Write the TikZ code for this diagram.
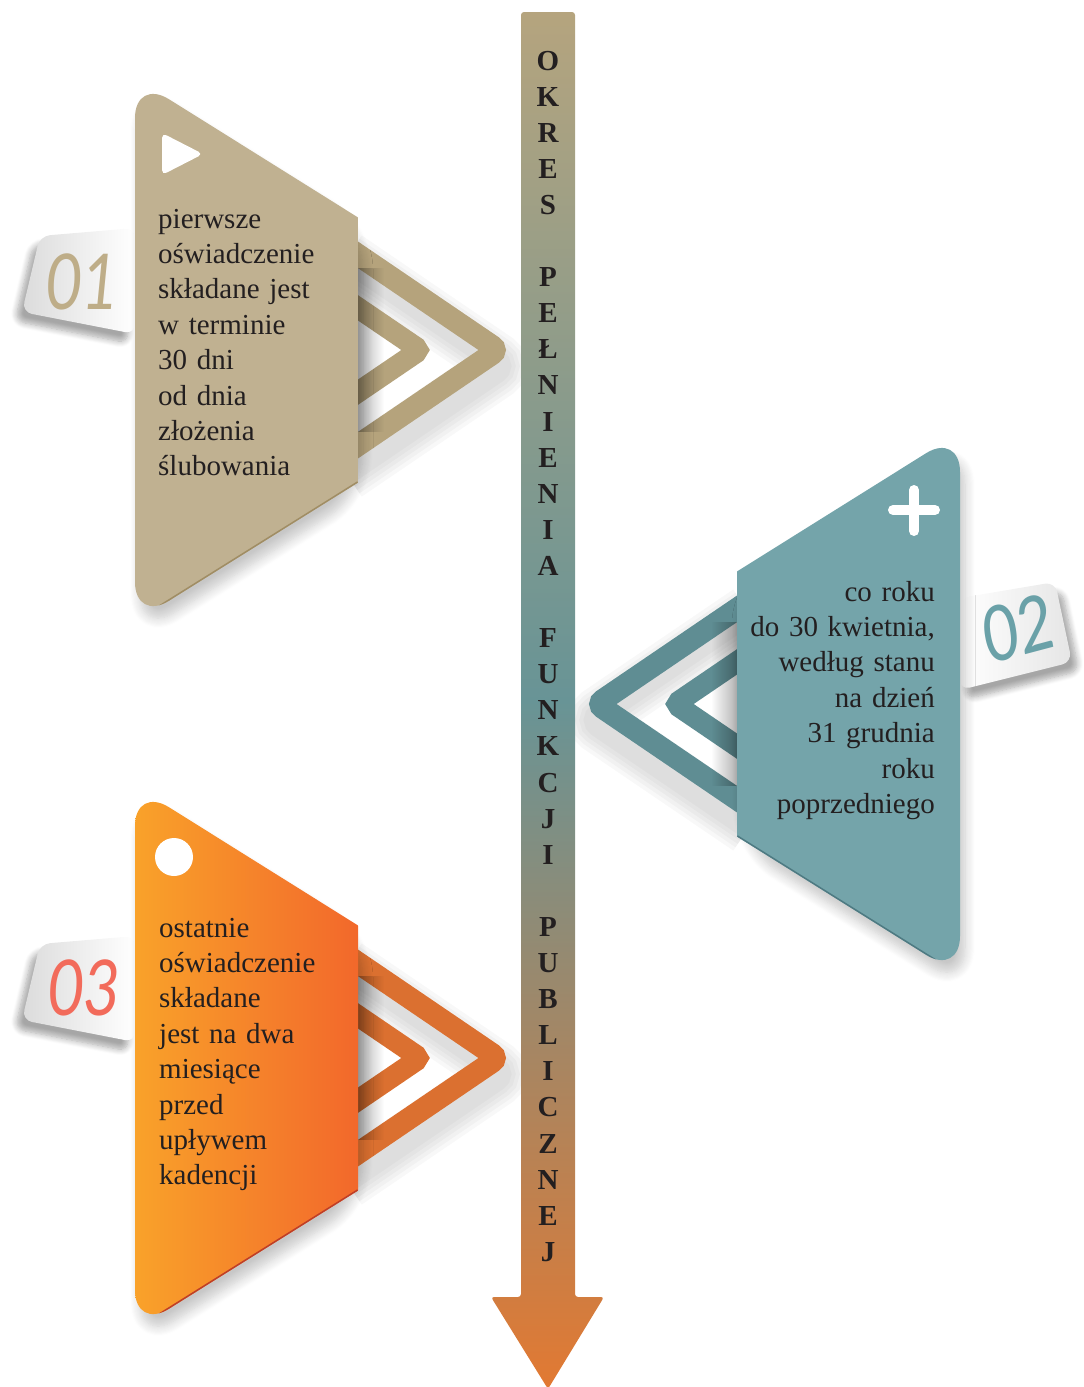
\documentclass[tikz,border=0pt]{standalone}
\usepackage{fontspec}
\setmainfont{Liberation Serif}
\newfontfamily\numfont{Carlito}
\usetikzlibrary{shadows.blur,fadings}

\definecolor{tanpanel}{RGB}{192,177,145}
\definecolor{tanchev}{RGB}{181,163,124}
\definecolor{tanedge}{RGB}{160,141,100}
\definecolor{tealpanel}{RGB}{116,164,170}
\definecolor{tealchev}{RGB}{95,141,147}
\definecolor{tealedge}{RGB}{78,122,130}
\definecolor{orgleft}{RGB}{249,162,42}
\definecolor{orgright}{RGB}{242,104,43}
\definecolor{orgchev}{RGB}{219,112,48}
\definecolor{orgedge}{RGB}{190,62,40}
\definecolor{numtan}{RGB}{190,173,136}
\definecolor{numteal}{RGB}{106,161,168}
\definecolor{numred}{RGB}{242,107,91}
\definecolor{ink}{RGB}{35,31,32}
\definecolor{arrtop}{RGB}{181,164,126}
\definecolor{arrmid}{RGB}{104,148,150}
\definecolor{arrbot}{RGB}{226,121,50}
\pgfdeclareverticalshading{timeline}{100bp}{color(0bp)=(arrbot); color(25bp)=(arrbot); color(50bp)=(arrmid); color(75bp)=(arrtop); color(100bp)=(arrtop)}

\begin{document}
\begin{tikzpicture}[x=1pt,y=-1pt,
  body/.style={font=\fontsize{29}{35.4}\selectfont, text=ink, inner sep=0pt, text width=230pt},
  letter/.style={font=\fontsize{29}{29}\selectfont\bfseries, text=ink, inner sep=0pt, anchor=base},
  num/.style={font=\fontsize{86}{86}\selectfont\numfont, inner sep=0pt, xscale=0.8},
  numit/.style={num, font=\fontsize{86}{86}\selectfont\numfont\itshape},
  chev/.style={line width=22pt, rounded corners=7pt, line join=miter},
  chevin/.style={line width=21pt, rounded corners=5pt, line join=miter},
  chevshade/.style={black, opacity=0.028, line width=#1, rounded corners=10pt},
  soft/.style={blur shadow={shadow xshift=5pt, shadow yshift=-12pt, shadow opacity=22, shadow blur radius=10pt, shadow blur steps=10}},
  tabshadow/.style={blur shadow={shadow xshift=#1, shadow yshift=-9pt, shadow opacity=35, shadow blur radius=6pt, shadow blur steps=8}},
  tabpaper/.style={rounded corners=10pt}]
\useasboundingbox (0,0) rectangle (1084,1387);

% 01
\path[tabshadow=-7pt, rounded corners=10pt] (135,228) -- (40,236) -- (22,312) -- (135,334) -- cycle;
\shade[tabpaper, left color=black!14, right color=white] (135,228) -- (40,236) -- (22,312) -- (135,334) -- cycle;
\node[numit, text=numtan] (numA) at (80,282) {01};
\begin{scope}[shift={(6,16)}]
  \foreach \w in {56pt,48pt,40pt,32pt,24pt}
    \draw[chevshade=\w] (340,242.6) -- (498,350) -- (340,457.4);
\end{scope}
\draw[chev, tanchev] (340,242.6) -- (498,350) -- (340,457.4);
\draw[chevin, tanchev] (340,295.6) -- (420,350) -- (340,404.4);
\fill[black, opacity=0.3, path fading=east] (358,268) rectangle (384,432);
\path[soft, rounded corners=40pt] (358,217.4) -- (135,78) -- (135,622) -- (358,482.6) -- cycle;
\begin{scope}
  \clip[rounded corners=40pt] (135,78) -- (570,350) -- (135,622) -- cycle;
  \fill[tanpanel] (100,0) rectangle (358,700);
  \draw[tanedge, line width=3pt] (358,482.6) -- (135,622);
\end{scope}
\fill[white, rounded corners=5pt] (162,133) -- (203,154) -- (162,175) -- cycle;
\node[body, align=left, anchor=base west] (txtA) at (158,228)
  {pierwsze\\ oświadczenie\\ składane jest\\ w terminie\\ 30 dni\\ od dnia\\ złożenia\\ ślubowania};

% 02
\path[tabshadow=7pt, rounded corners=10pt] (960,598) -- (1055,582) -- (1072,662) -- (960,690) -- cycle;
\shade[tabpaper, left color=white, right color=black!10] (960,598) -- (1055,582) -- (1072,662) -- (960,690) -- cycle;
\node[num, text=numteal, rotate=12] (numB) at (1018,628) {02};
\begin{scope}[shift={(-6,16)}]
  \foreach \w in {56pt,48pt,40pt,32pt,24pt}
    \draw[chevshade=\w] (755,596.6) -- (597,704) -- (755,811.4);
\end{scope}
\draw[chev, tealchev] (755,596.6) -- (597,704) -- (755,811.4);
\draw[chevin, tealchev] (755,649.6) -- (675,704) -- (755,758.4);
\fill[black, opacity=0.3, path fading=west] (711,622) rectangle (737,786);
\path[soft, rounded corners=40pt] (737,571.4) -- (960,432) -- (960,976) -- (737,836.6) -- cycle;
\begin{scope}
  \clip[rounded corners=40pt] (960,432) -- (525,704) -- (960,976) -- cycle;
  \fill[tealpanel] (737,400) rectangle (1000,1000);
  \draw[tealedge, line width=3pt] (737,836.6) -- (960,976);
\end{scope}
\draw[white, line width=10pt, line cap=round] (893,510) -- (935,510) (914,490) -- (914,531);
\node[body, align=right, anchor=base east] (txtB) at (935,601)
  {co roku\\ do 30 kwietnia,\\ według stanu\\ na dzień\\ 31 grudnia\\ roku\\ poprzedniego};

% 03
\path[tabshadow=-7pt, rounded corners=10pt] (135,936) -- (40,944) -- (22,1020) -- (135,1042) -- cycle;
\shade[tabpaper, left color=black!14, right color=white] (135,936) -- (40,944) -- (22,1020) -- (135,1042) -- cycle;
\node[numit, text=numred] (numC) at (82,988) {03};
\begin{scope}[shift={(6,16)}]
  \foreach \w in {56pt,48pt,40pt,32pt,24pt}
    \draw[chevshade=\w] (340,950.6) -- (498,1058) -- (340,1165.4);
\end{scope}
\draw[chev, orgchev] (340,950.6) -- (498,1058) -- (340,1165.4);
\draw[chevin, orgchev] (340,1003.6) -- (420,1058) -- (340,1112.4);
\fill[black, opacity=0.3, path fading=east] (358,976) rectangle (384,1140);
\path[soft, rounded corners=40pt] (358,925.4) -- (135,786) -- (135,1330) -- (358,1190.6) -- cycle;
\begin{scope}
  \clip[rounded corners=40pt] (135,786) -- (570,1058) -- (135,1330) -- cycle;
  \shade[left color=orgleft, right color=orgright] (135,700) rectangle (358,1400);
  \draw[orgedge, line width=3pt] (358,1190.6) -- (135,1330);
\end{scope}
\fill[white] (174,857) circle (19);
\node[body, align=left, anchor=base west] (txtC) at (159,937)
  {ostatnie\\ oświadczenie\\ składane\\ jest na dwa\\ miesiące\\ przed\\ upływem\\ kadencji};

% timeline
\shade[shading=timeline, rounded corners=3pt] (521,12) -- (575,12) -- (575,1297) -- (604,1297) -- (548,1389) -- (491,1297) -- (521,1297) -- cycle;
\foreach \ch [count=\i from 0] in {O,K,R,E,S,{},P,E,Ł,N,I,E,N,I,A,{},F,U,N,K,C,J,I,{},P,U,B,L,I,C,Z,N,E,J}
  \node[letter] (let\i) at (548,70+36.1*\i) {\ch};
\end{tikzpicture}
\end{document}
